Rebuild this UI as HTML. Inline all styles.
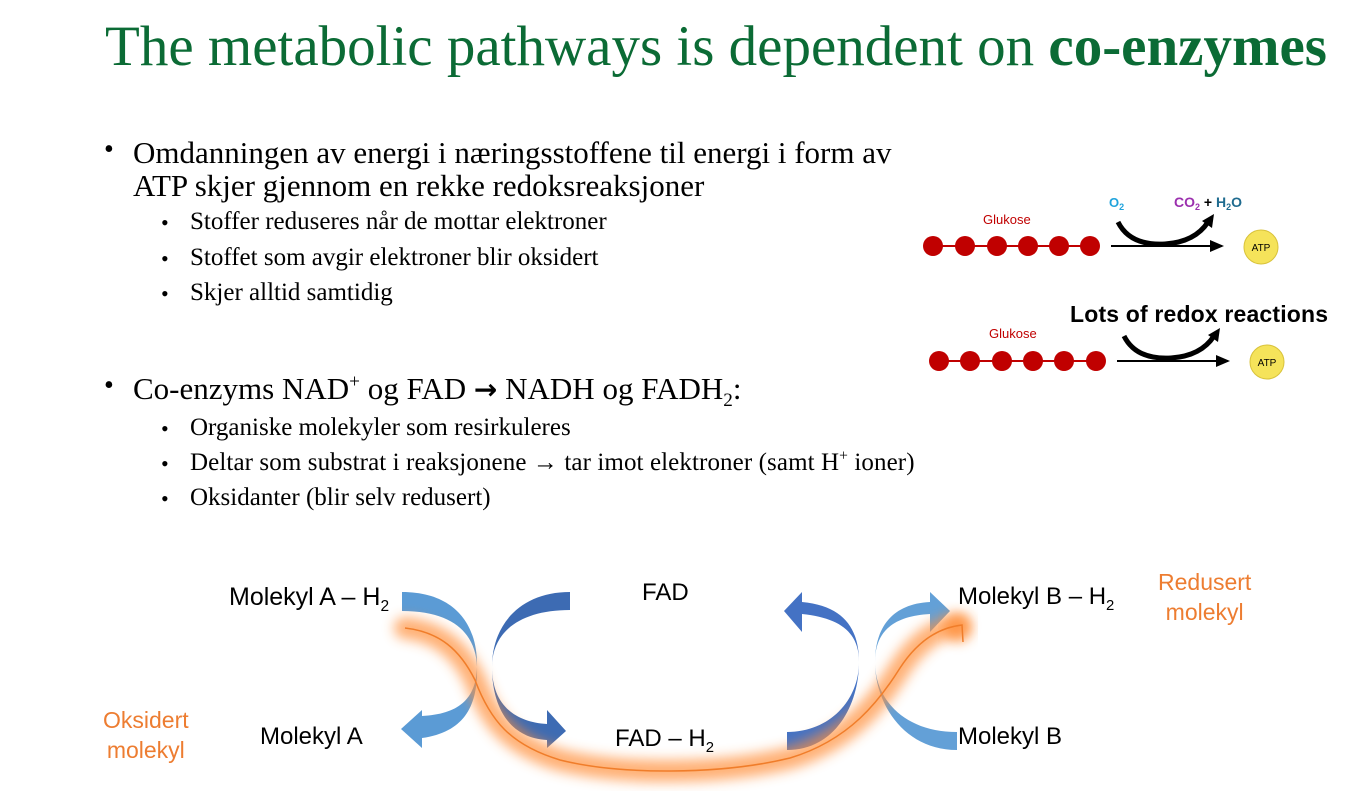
<!DOCTYPE html>
<html><head><meta charset="utf-8"><style>
body{margin:0;width:1351px;height:791px;background:#fff;position:relative;overflow:hidden;font-family:"Liberation Serif",serif;}
.a{position:absolute;white-space:nowrap;}
.t{font-size:57px;color:#0b6b35;left:105px;top:14px;}
.b1{font-size:31px;color:#000;left:133px;line-height:33px;}
.b2{font-size:25px;color:#000;left:190px;}
.d1{font-size:28px;left:104px;}
.d2{font-size:22px;left:161px;}
.s{font-family:"Liberation Sans",sans-serif;}
sub,sup{font-size:62%;line-height:0;}
</style></head><body>
<div class="a t">The metabolic pathways is dependent on <b>co-enzymes</b></div>

<div class="a b1" style="top:136px;">Omdanningen av energi i næringsstoffene til energi i form av<br>ATP skjer gjennom en rekke redoksreaksjoner</div>
<div class="a d1" style="top:134px">•</div>
<div class="a b2" style="top:208px">Stoffer reduseres når de mottar elektroner</div>
<div class="a d2" style="top:210px">•</div>
<div class="a b2" style="top:244px">Stoffet som avgir elektroner blir oksidert</div>
<div class="a d2" style="top:246px">•</div>
<div class="a b2" style="top:279px">Skjer alltid samtidig</div>
<div class="a d2" style="top:281px">•</div>

<div class="a b1" style="top:372px">Co-enzyms NAD<sup>+</sup> og FAD <b style="font-family:'DejaVu Sans',sans-serif;font-size:28px">→</b> NADH og FADH<sub>2</sub>:</div>
<div class="a d1" style="top:370px">•</div>
<div class="a b2" style="top:414px">Organiske molekyler som resirkuleres</div>
<div class="a d2" style="top:416px">•</div>
<div class="a b2" style="top:449px;letter-spacing:0.1px">Deltar som substrat i reaksjonene → tar imot elektroner (samt H<sup>+</sup> ioner)</div>
<div class="a d2" style="top:451px">•</div>
<div class="a b2" style="top:484px">Oksidanter (blir selv redusert)</div>
<div class="a d2" style="top:486px">•</div>

<svg class="a" style="left:0;top:0" width="1351" height="791">
<defs>
<filter id="bl" x="-20%" y="-50%" width="140%" height="200%"><feGaussianBlur stdDeviation="6"/></filter>
<marker id="ah" markerWidth="8" markerHeight="8" refX="6" refY="4" orient="auto"><path d="M0,1 L7,4 L0,7 Z" fill="#000"/></marker>
</defs>
<g fill="#c00000">
<line x1="933" y1="246" x2="1090" y2="246" stroke="#c00000" stroke-width="2"/>
<circle cx="933" cy="246" r="10"/><circle cx="965" cy="246" r="10"/><circle cx="997" cy="246" r="10"/><circle cx="1028" cy="246" r="10"/><circle cx="1059" cy="246" r="10"/><circle cx="1090" cy="246" r="10"/>
</g>
<text x="983" y="224" font-family="Liberation Sans" font-size="13" fill="#c00000">Glukose</text>
<line x1="1111" y1="246" x2="1222" y2="246" stroke="#000" stroke-width="2" marker-end="url(#ah)"/>
<path d="M1118,222 Q1130,246 1165,244 Q1195,242 1208,222" fill="none" stroke="#000" stroke-width="5"/>
<path d="M1202,221 L1214,214 L1212,228 Z" fill="#000"/>
<text x="1109" y="207" font-family="Liberation Sans" font-weight="bold" font-size="13" fill="#1fa3dc">O<tspan font-size="9" dy="3">2</tspan></text>
<text x="1174" y="207" font-family="Liberation Sans" font-weight="bold" font-size="14"><tspan fill="#9b2fae">CO</tspan><tspan fill="#9b2fae" font-size="9" dy="3">2</tspan><tspan dy="-3" fill="#000"> + </tspan><tspan fill="#1f6b8f">H</tspan><tspan fill="#1f6b8f" font-size="9" dy="3">2</tspan><tspan fill="#1f6b8f" dy="-3">O</tspan></text>
<circle cx="1261" cy="247" r="17" fill="#f5e35a" stroke="#d8c23a" stroke-width="1"/>
<text x="1261" y="251" font-family="Liberation Sans" font-size="10" text-anchor="middle">ATP</text>
<g fill="#c00000">
<line x1="939" y1="361" x2="1096" y2="361" stroke="#c00000" stroke-width="2"/>
<circle cx="939" cy="361" r="10"/><circle cx="970" cy="361" r="10"/><circle cx="1002" cy="361" r="10"/><circle cx="1033" cy="361" r="10"/><circle cx="1064" cy="361" r="10"/><circle cx="1096" cy="361" r="10"/>
</g>
<text x="989" y="338" font-family="Liberation Sans" font-size="13" fill="#c00000">Glukose</text>
<line x1="1117" y1="361" x2="1228" y2="361" stroke="#000" stroke-width="2" marker-end="url(#ah)"/>
<path d="M1124,336 Q1136,360 1171,358 Q1201,356 1214,336" fill="none" stroke="#000" stroke-width="5"/>
<path d="M1208,335 L1220,328 L1218,342 Z" fill="#000"/>
<text x="1070" y="322" font-family="Liberation Sans" font-weight="bold" font-size="23" textLength="258">Lots of redox reactions</text>
<circle cx="1267" cy="362" r="17" fill="#f5e35a" stroke="#d8c23a" stroke-width="1"/>
<text x="1267" y="366" font-family="Liberation Sans" font-size="10" text-anchor="middle">ATP</text>

<path d="M402,592 C455,592 478,625 477,667 C476,700 458,714 422,716 L422,710 L401,729 L422,748 L422,738 C465,732 478,705 477,667 C476,635 455,611 402,611 Z" fill="#5b9bd5"/>
<path d="M570,592 C520,592 492,625 492,667 C492,705 515,722 547,724 L547,710 L566,731 L547,748 L547,740 C510,738 492,708 492,667 C492,632 520,610 570,610 Z" fill="#3d6bb3"/>
<path d="M787,732 C830,732 859,700 859,662 C859,632 840,618 802,614 L802,632 L784,611 L802,592 L802,602 C845,606 859,630 859,662 C859,705 835,750 787,750 Z" fill="#4472c4"/>
<path d="M957,732 C905,732 875,700 875,662 C875,630 895,616 930,614 L930,632 L950,611 L930,592 L930,602 C890,604 875,630 875,662 C875,705 905,750 957,750 Z" fill="#5b9bd5" opacity="0.95"/>

<path d="M405,628 C440,632 460,650 475,680 C490,720 510,745 560,760 C620,775 720,775 790,758 C850,740 880,700 900,668 C915,645 935,628 958,625" fill="none" stroke="#ff8f3a" stroke-width="22" stroke-linecap="round" opacity="0.7" filter="url(#bl)"/>
<circle cx="958" cy="628" r="14" fill="#ff8a30" opacity="0.7" filter="url(#bl)"/>
<path d="M405,628 C440,632 460,650 475,680 C490,720 510,745 560,760 C620,775 720,775 790,758 C850,740 880,700 900,668 C915,645 935,628 962,625 L963,642" fill="none" stroke="#f07d2a" stroke-width="1.5"/>
</svg>

<div class="a s" style="left:229px;top:583px;font-size:25px">Molekyl A – H<sub>2</sub></div>
<div class="a s" style="left:260px;top:723px;font-size:24px">Molekyl A</div>
<div class="a s" style="left:642px;top:579px;font-size:24px">FAD</div>
<div class="a s" style="left:615px;top:725px;font-size:24px">FAD – H<sub>2</sub></div>
<div class="a s" style="left:958px;top:583px;font-size:24px">Molekyl B – H<sub>2</sub></div>
<div class="a s" style="left:958px;top:723px;font-size:24px">Molekyl B</div>
<div class="a s" style="left:1158px;top:567px;font-size:23px;color:#ed7d31;text-align:center;line-height:30px">Redusert<br>molekyl</div>
<div class="a s" style="left:103px;top:705px;font-size:23px;color:#ed7d31;text-align:center;line-height:30px">Oksidert<br>molekyl</div>
</body></html>
